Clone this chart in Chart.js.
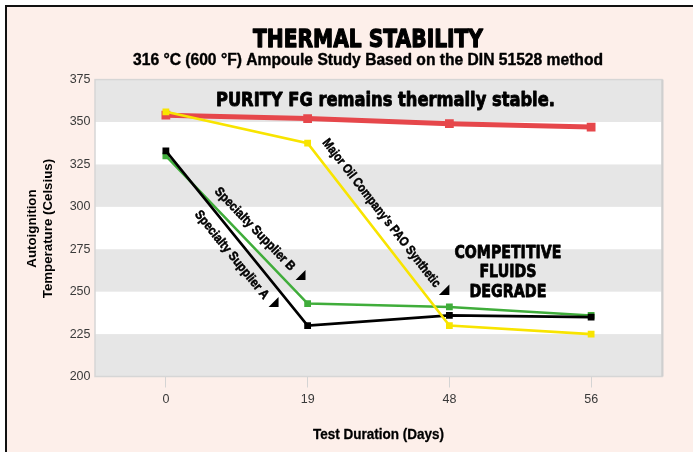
<!DOCTYPE html>
<html>
<head>
<meta charset="utf-8">
<script src="https://cdn.jsdelivr.net/npm/chart.js@4.4.0/dist/chart.umd.min.js"></script>
<style>
  html, body { margin: 0; padding: 0; background: #ffffff; }
  canvas { display: block; }
</style>
</head>
<body>
<canvas id="c" width="693" height="452"></canvas>
<script>
// ---- data ----
const categories  = ['0', '19', '48', '56'];
const purityFG    = [354, 352, 349, 347];
const majorOilPAO = [356, 337.5, 230, 225];
const supplierA   = [333, 230, 236, 235];
const supplierB   = [330, 243, 241, 236];
const yTickValues = [200, 225, 250, 275, 300, 325, 350, 375];
const seriesNames = ["Major Oil Company's PAO Synthetic", 'Specialty Supplier A', 'Specialty Supplier B', 'PURITY FG'];
const titleText    = 'THERMAL STABILITY';
const subtitleText = '316 °C (600 °F) Ampoule Study Based on the DIN 51528 method';
const yTitleLines  = ['Autoignition', 'Temperature (Celsius)'];
const xTitleText   = 'Test Duration (Days)';
const headlineText = 'PURITY FG remains thermally stable.';
const verdictLines = ['COMPETITIVE', 'FLUIDS', 'DEGRADE'];

// ---- styling ----
const PINK = '#fdefea';
const BAND = '#e6e6e6';
const RED = '#e6474b', YELLOW = '#f8e400', GREEN = '#40ad3b', BLACK = '#000000';

function xAt(chart, f) {
  const x = chart.scales.x;
  const i = Math.min(Math.floor(f), categories.length - 2);
  const a = x.getPixelForValue(i), b = x.getPixelForValue(i + 1);
  return a + (f - i) * (b - a);
}
function yAt(chart, v) { return chart.scales.y.getPixelForValue(v); }

function fitText(ctx, text, cx, baseline, font, width, stroke) {
  ctx.save();
  ctx.font = font;
  ctx.fillStyle = '#000';
  const w = ctx.measureText(text).width;
  ctx.translate(cx, baseline);
  ctx.scale(width / w, 1);
  ctx.textAlign = 'center';
  ctx.textBaseline = 'alphabetic';
  ctx.fillText(text, 0, 0);
  if (stroke) {
    ctx.strokeStyle = '#000';
    ctx.lineWidth = stroke;
    ctx.lineJoin = 'round';
    ctx.strokeText(text, 0, 0);
  }
  ctx.restore();
}

const backdrop = {
  id: 'backdrop',
  beforeDraw(chart) {
    const ctx = chart.ctx, W = chart.width, H = chart.height;
    const ca = chart.chartArea;
    ctx.save();
    ctx.fillStyle = '#ffffff';
    ctx.fillRect(0, 0, W, H);
    ctx.fillStyle = PINK;
    ctx.fillRect(5, 5, W - 5, H - 5);
    ctx.fillStyle = '#111';
    ctx.fillRect(5, 5, W - 5, 2);
    ctx.fillRect(5, 5, 2, H - 5);
    // plot bands
    ctx.fillStyle = '#ffffff';
    ctx.fillRect(ca.left, ca.top, ca.right - ca.left, ca.bottom - ca.top);
    ctx.fillStyle = BAND;
    for (let i = 0; i < yTickValues.length - 1; i++) {
      if (i % 2 === 0) {
        const y1 = yAt(chart, yTickValues[i]), y2 = yAt(chart, yTickValues[i + 1]);
        ctx.fillRect(ca.left, y2, ca.right - ca.left, y1 - y2);
      }
    }
    ctx.strokeStyle = '#d6d6d6';
    ctx.lineWidth = 1.5;
    ctx.strokeRect(ca.left, ca.top, ca.right - ca.left, ca.bottom - ca.top);
    ctx.fillStyle = '#cfcfcf';
    ctx.fillRect(ca.right - 0.5, ca.top, 2, ca.bottom - ca.top);
    ctx.restore();
  }
};

const annotations = {
  id: 'annotations',
  afterDatasetsDraw(chart) {
    const ctx = chart.ctx;
    // headline
    fitText(ctx, headlineText, xAt(chart, 1.549), yAt(chart, 359.6), 'bold 19px "DejaVu Sans"', 339, 0.9);
    // verdict
    const vx = xAt(chart, 2.413), vy = yAt(chart, 269.7);
    const vw = [107, 57, 77];
    verdictLines.forEach((t, i) => fitText(ctx, t, vx, vy + i * 19.2, 'bold 17px "DejaVu Sans"', vw[i], 0.8));
    // rotated series labels
    const labels = [
      { text: seriesNames[2], f: 0.627, v: 286.8, data: supplierB, i0: 0, len: 110 },
      { text: seriesNames[1], f: 0.464, v: 271.6, data: supplierA, i0: 0, len: 110 },
      { text: seriesNames[0], f: 1.519, v: 296.2, data: majorOilPAO, i0: 1, len: 184 }
    ];
    labels.forEach(l => {
      const x0 = xAt(chart, l.i0), x1 = xAt(chart, l.i0 + 1);
      const y0 = yAt(chart, l.data[l.i0]), y1 = yAt(chart, l.data[l.i0 + 1]);
      const ang = Math.atan2(y1 - y0, x1 - x0);
      ctx.save();
      ctx.translate(xAt(chart, l.f), yAt(chart, l.v));
      ctx.rotate(ang);
      ctx.font = 'bold 13px "Liberation Sans"';
      const w = ctx.measureText(l.text).width;
      ctx.scale(l.len / w, 1);
      ctx.fillStyle = '#000';
      ctx.strokeStyle = '#000';
      ctx.lineWidth = 0.5;
      ctx.textAlign = 'center';
      ctx.textBaseline = 'middle';
      ctx.fillText(l.text, 0, 0);
      ctx.strokeText(l.text, 0, 0);
      ctx.restore();
    });
    // pointer triangles
    const tris = [
      { f: 0.985, v: 256.9, s: 10 },
      { f: 0.795, v: 241.0, s: 10 },
      { f: 2.0, v: 248.1, s: 10.5 }
    ];
    ctx.save();
    ctx.fillStyle = '#000';
    tris.forEach(t => {
      const cx = xAt(chart, t.f), cy = yAt(chart, t.v);
      ctx.beginPath();
      ctx.moveTo(cx, cy - t.s);
      ctx.lineTo(cx, cy);
      ctx.lineTo(cx - t.s, cy);
      ctx.closePath();
      ctx.fill();
    });
    ctx.restore();
  },
  afterDraw(chart) {
    const ctx = chart.ctx;
    const ca = chart.chartArea;
    fitText(ctx, titleText, 368, 47.3, 'bold 25px "DejaVu Sans"', 230, 1.3);
    fitText(ctx, subtitleText, 368, 65.3, 'bold 16px "Liberation Sans"', 470, 0.4);
    fitText(ctx, xTitleText, (ca.left + ca.right) / 2, 439.3, 'bold 14.8px "Liberation Sans"', 131, 0.3);
    const yc = (yAt(chart, 200) + yAt(chart, 375)) / 2 + 0.5;
    const bx = [36.2, 52.3];
    yTitleLines.forEach((t, i) => {
      ctx.save();
      ctx.translate(bx[i], yc);
      ctx.rotate(-Math.PI / 2);
      ctx.font = 'bold 13.3px "Liberation Sans"';
      ctx.fillStyle = '#000';
      ctx.textAlign = 'center';
      ctx.textBaseline = 'alphabetic';
      ctx.fillText(t, 0, 0);
      ctx.restore();
    });
  }
};

function lineDs(label, data, color, width, radius) {
  return {
    label, data,
    borderColor: color, backgroundColor: color,
    borderWidth: width,
    pointStyle: 'rect', pointRadius: radius, pointHoverRadius: radius,
    pointBorderWidth: 0, pointBackgroundColor: color,
    tension: 0, fill: false
  };
}

new Chart(document.getElementById('c'), {
  type: 'line',
  data: {
    labels: categories,
    datasets: [
      lineDs(seriesNames[0], majorOilPAO, YELLOW, 2.6, 4.8),
      lineDs(seriesNames[1], supplierA, BLACK, 2.6, 4.8),
      lineDs(seriesNames[2], supplierB, GREEN, 2.6, 4.8),
      lineDs(seriesNames[3], purityFG, RED, 5, 6.2)
    ]
  },
  options: {
    responsive: false,
    animation: false,
    devicePixelRatio: 1,
    layout: { padding: { left: 0, top: 79.6, right: 31, bottom: 0 } },
    plugins: { legend: { display: false }, title: { display: false }, tooltip: { enabled: false } },
    scales: {
      x: {
        type: 'category',
        offset: true,
        grid: { display: true, drawOnChartArea: false, drawTicks: true, tickLength: 11, color: '#d4d4d4', lineWidth: 1 },
        border: { display: false },
        ticks: { color: '#3a3a3a', font: { family: 'Liberation Sans', size: 12.5 }, padding: 5, maxRotation: 0 },
        afterFit(s) { s.height = 75.5; }
      },
      y: {
        min: yTickValues[0],
        max: yTickValues[yTickValues.length - 1],
        grid: { display: false, drawTicks: false },
        border: { display: false },
        ticks: { stepSize: yTickValues[1] - yTickValues[0], color: '#3a3a3a', font: { family: 'Liberation Sans', size: 12.5 }, padding: 4.5 },
        afterFit(s) { s.width = 95; }
      }
    }
  },
  plugins: [backdrop, annotations]
});
</script>
</body>
</html>
